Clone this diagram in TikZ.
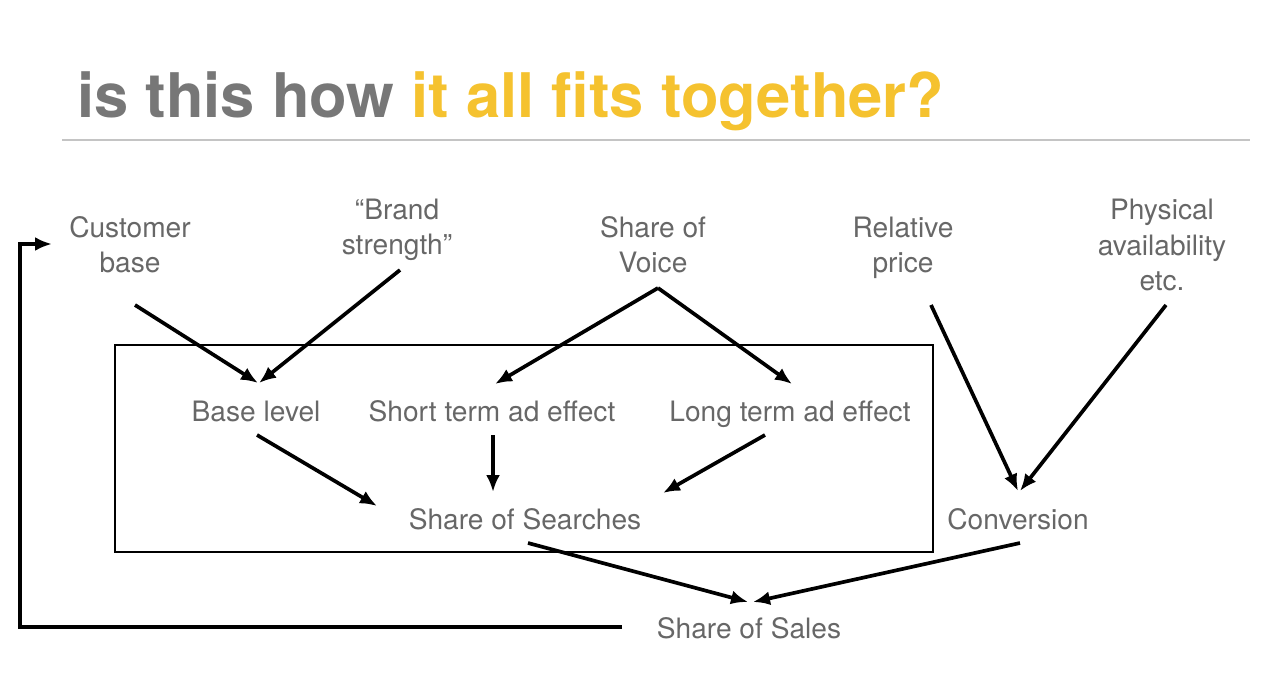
\documentclass[tikz,border=0pt]{standalone}
\usepackage{fontspec}
\setmainfont{TeX Gyre Heros}
\usetikzlibrary{arrows.meta,calc}
\definecolor{titlegray}{HTML}{777777}
\definecolor{titleyellow}{HTML}{F5C22F}
\definecolor{labelgray}{HTML}{676767}
\definecolor{rulegray}{HTML}{C4C4C4}

\begin{document}
\begin{tikzpicture}[
        x=0.02cm, y=-0.02cm,
        factor/.style={align=center, text=labelgray, inner sep=2pt,
                       font=\fontsize{16}{20}\selectfont},
        frame/.style={draw, line width=0.8pt, inner sep=0pt,
                      minimum width=16.36cm, minimum height=4.14cm},
        arrow/.style={-{Latex[length=3.4mm,width=2.8mm]}, line width=2.1pt}
    ]
        \useasboundingbox (0,0) rectangle (1280,682);

        \node[anchor=base west, inner sep=0pt,
              font=\fontsize{35}{40}\selectfont\bfseries] (title) at (77,118)
            {\textcolor{titlegray}{is this how} \textcolor{titleyellow}{it all fits together?}};
        \draw[rulegray, line width=1.1pt] (62,140) -- (1250,140);

        \node[frame] (box) at (524,448.5) {};

        \node[factor] (cust)  at (130,245)  {Customer\\base};
        \node[factor] (brand) at (397,230)  {“Brand\\strength”};
        \node[factor] (voice) at (653,245)  {Share of\\Voice};
        \node[factor] (price) at (903,248)  {Relative\\price};
        \node[factor] (phys)  at (1162,245) {Physical\\availability\\etc.};
        \node[factor] (base)  at (256,411)  {Base level};
        \node[factor] (short) at (492,411)  {Short term ad effect};
        \node[factor] (long)  at (790,414)  {Long term ad effect};
        \node[factor] (search) at (525,519) {Share of Searches};
        \node[factor] (conv)  at (1018,519) {Conversion};
        \node[factor] (sales) at (749,628)  {Share of Sales};
        \coordinate (loop) at (20,627);

        \draw[arrow] ($(cust)+(5,60)$) -- ($(base)+(2,-28)$);
        \draw[arrow] ($(brand)+(3,40)$) -- ($(base)+(3,-28)$);
        \draw[arrow] ($(voice)+(5,43)$) -- ($(short)+(3,-27)$);
        \draw[arrow] ($(voice)+(5,43)$) -- ($(long)+(2,-30)$);
        \draw[arrow] ($(base)+(1,24)$) -- ($(search)+(-148,-13)$);
        \draw[arrow] ($(short)+(1,24)$) -- ($(search)+(-32,-27)$);
        \draw[arrow] ($(long)+(-25,21)$) -- ($(search)+(138,-26)$);
        \draw[arrow] ($(price)+(28,57)$) -- ($(conv)+(0,-28)$);
        \draw[arrow] ($(phys)+(4,60)$) -- ($(conv)+(2,-28)$);
        \draw[arrow] ($(search)+(3,24)$) -- ($(sales)+(-1,-26)$);
        \draw[arrow] ($(conv)+(2,24)$) -- ($(sales)+(4,-26)$);
        \draw[arrow] ($(sales)+(-127,-1)$) -- (loop) |- ($(cust)+(-78,-1)$);
    \end{tikzpicture}
\end{document}
